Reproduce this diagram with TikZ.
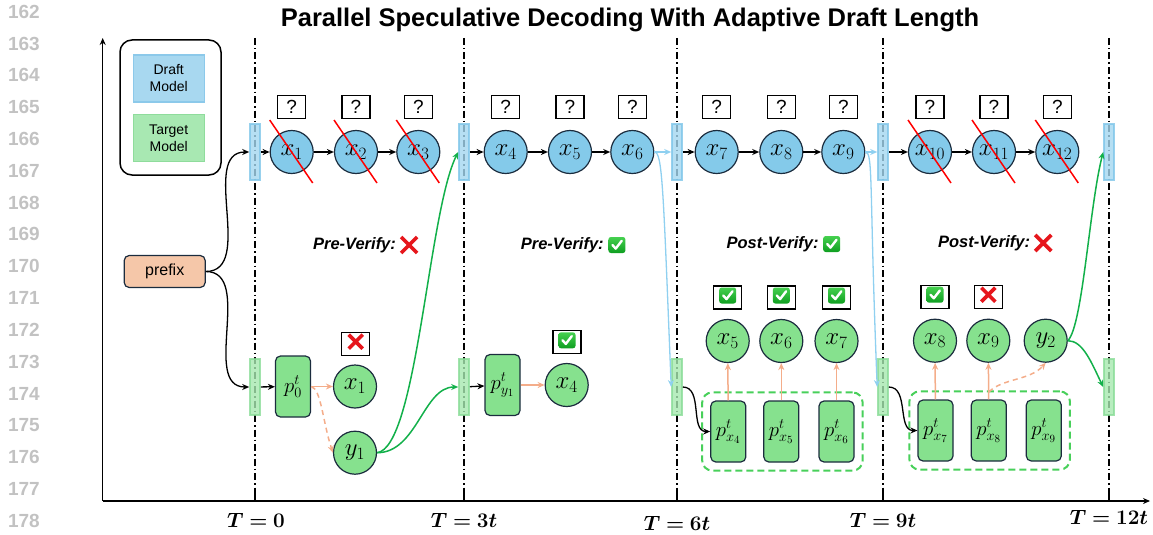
\documentclass[tikz,border=0pt]{standalone}
\usepackage{fontspec}
\usepackage{bm}
\setsansfont{Liberation Sans}
\usepackage{tikz}
\usetikzlibrary{calc}
\usetikzlibrary{fit}
\usetikzlibrary{arrows.meta}
\definecolor{c_navy}{HTML}{1B2C3E}
\definecolor{c_draft}{HTML}{84CAEA}
\definecolor{c_target}{HTML}{86E18E}
\definecolor{c_bar_blue}{HTML}{A4D7F0}
\definecolor{c_bar_blue_dark}{HTML}{7EC5E9}
\definecolor{c_bar_green}{HTML}{A6E8AF}
\definecolor{c_bar_green_dark}{HTML}{8ADC97}
\definecolor{c_ok_top}{HTML}{45D04F}
\definecolor{c_ok_bot}{HTML}{0E9E20}
\definecolor{c_no}{HTML}{E6161C}
\definecolor{c_lineno}{HTML}{C2C2C2}
\definecolor{c_link}{HTML}{12B04A}
\definecolor{c_group}{HTML}{48D05A}
\definecolor{lorange}{HTML}{F4AD8A}
\definecolor{lpeach}{HTML}{F5C7A9}
\definecolor{lsky}{HTML}{8FD0F0}
\definecolor{lblue}{HTML}{A8D8F0}
\definecolor{lblue_b}{HTML}{8CC9EA}
\definecolor{lgreen}{HTML}{A8E8B2}
\definecolor{lgreen_b}{HTML}{8FDC9C}
\newcommand\fsz[1]{\fontsize{#1}{#1}\selectfont}

\tikzset{
  draftnode/.style={circle, draw=c_navy, fill=c_draft, line width=1.2pt, minimum size=43pt, inner sep=0pt, font=\fsz{24}},
  targetnode/.style={draftnode, fill=c_target},
  probbox/.style={rectangle, rounded corners=5pt, draw=c_navy, fill=c_target, line width=1.2pt, minimum width=35pt, minimum height=61pt, inner sep=0pt, font=\fsz{21}},
  qbox/.style={rectangle, draw=black, line width=1.3pt, fill=white, minimum width=28pt, minimum height=23pt, inner sep=0pt, font=\sffamily\fsz{19}},
  bluebar/.style={rectangle, draw=c_bar_blue_dark, fill=c_bar_blue, line width=1.6pt, opacity=0.8, minimum width=10pt, minimum height=56pt, inner sep=0pt},
  greenbar/.style={bluebar, draw=c_bar_green_dark, fill=c_bar_green},
  groupbox/.style={draw=c_group, line width=2pt, dash pattern=on 7pt off 4pt, rounded corners=10pt, inner sep=8pt},
  divider/.style={line width=1.3pt, dash pattern=on 7pt off 3pt on 1.5pt off 3pt},
  strike/.style={draw=red, line width=1.5pt},
  flow/.style={->, line width=1.3pt},
  orangeflow/.style={->, draw=lorange, line width=1.5pt},
  orangedash/.style={orangeflow, dash pattern=on 5pt off 4pt},
  skyflow/.style={->, draw=lsky, line width=1.3pt},
  linkflow/.style={->, draw=c_link, line width=1.5pt},
  axis/.style={->, line width=1.5pt},
  verify/.style={font=\sffamily\bfseries\itshape\fsz{16.5}, inner sep=0pt},
  lineno/.style={anchor=east, inner sep=0pt, text=c_lineno, font=\sffamily\bfseries\fsz{19}},
  timelabel/.style={font=\fsz{21}, inner sep=0pt},
  okmark/.pic={
    \shade[top color=c_ok_top, bottom color=c_ok_bot, rounded corners=2.5pt] (-8.5,-8) rectangle (8.5,8);
    \draw[white, line width=2.4pt, line cap=round, line join=round] (-4.5,0) -- (-1.2,3.6) -- (4.8,-4.2);
  },
  nomark/.pic={
    \draw[c_no, line width=3.6pt] (-7,-7) -- (7,7) (-7,7) -- (7,-7);
  }
}

\begin{document}
\begin{tikzpicture}
[x=1pt, y=-1pt, >={Stealth[length=7pt,width=6pt]}, font=\sffamily]
	\useasboundingbox (0,0) rectangle (1153,535);

	% line numbers of the page
	\foreach \n in {0,...,16} {
		\pgfmathtruncatemacro{\lnum}{162+\n}
		\node[lineno] (ln\n) at (40, 11.7+31.82*\n) {\lnum};
	}

	\node[font=\sffamily\bfseries\fsz{25.5}] (title) at (630,20) {Parallel Speculative Decoding With Adaptive Draft Length};

	% time axis
	\draw[axis] (102.7,501) -- (102.7,38);
	\draw[axis] (102.7,501) -- (1150,501);

	\foreach \x/\t in {255/0, 464/3, 677/6, 883/9, 1109/12} {
		\draw[divider] (\x,38) -- (\x,501);
		\draw[line width=1.2pt] (\x,494) -- (\x,501);
		\node[bluebar] (bd\t) at (\x,152) {};
		\node[greenbar] (bg\t) at (\x,387) {};
	}
	\node[timelabel] (t0) at (256,520) {$\bm{T=0}$};
	\node[timelabel] (t3) at (464,520) {$\bm{T=3t}$};
	\node[timelabel] (t6) at (677,523) {$\bm{T=6t}$};
	\node[timelabel] (t9) at (883,520) {$\bm{T=9t}$};
	\node[timelabel] (t12) at (1109,517) {$\bm{T=12t}$};

	% legend
	\node[draw, line width=1.5pt, rounded corners=12pt, minimum width=101pt, minimum height=135pt] (legend) at (170.5,107.5) {};
	\node[draw=lblue_b, fill=lblue, line width=1.2pt, minimum width=71pt, minimum height=47pt, align=center, font=\sffamily\fontsize{14}{17}\selectfont] (dkey) at (168.7,78.5) {Draft\\Model};
	\node[draw=lgreen_b, fill=lgreen, line width=1.2pt, minimum width=71pt, minimum height=47pt, align=center, font=\sffamily\fontsize{14}{17}\selectfont] (tkey) at (168.7,138) {Target\\Model};

	\node[draw=c_navy, fill=lpeach, line width=1.2pt, rounded corners=5pt, minimum width=81pt, minimum height=32pt, font=\sffamily\fsz{16}] (prefix) at (164.7,271.5) {prefix};

	% draft tokens
	\foreach \x/\i in {291.7/1, 356/2, 418.3/3, 505.7/4, 570/5, 632.3/6, 716.7/7, 781.3/8, 843.3/9, 930/10, 994/11, 1057.3/12} {
		\node[draftnode] (d\i) at (\x,152) {$x_{\i}$};
		\node[qbox] (q\i) at (\x,107) {?};
	}
	\foreach \i in {1,2,3,10,11,12}
		\draw[strike] ($(d\i)+(-22,-32)$) -- ($(d\i)+(21,31)$);
	\foreach \a/\b in {bd0/d1, d1/d2, d2/d3, bd3/d4, d4/d5, d5/d6, bd6/d7, d7/d8, d8/d9, bd9/d10, d10/d11, d11/d12}
		\draw[flow] (\a) -- (\b);
	\draw[skyflow] (d6) -- (bd6);
	\draw[skyflow] (d9) -- (bd9);

	% target model side
	\node[probbox] (p0) at (293,386.5) {$p^t_0$};
	\node[targetnode] (gx1) at (355,386.5) {$x_1$};
	\node[targetnode] (gy1) at (355,452.7) {$y_1$};
	\node[probbox] (py1) at (502.5,385) {$p^t_{y_1}$};
	\node[targetnode] (gx4) at (566.7,385) {$x_4$};

	\node[probbox] (px4) at (728.3,431.5) {$p^t_{x_4}$};
	\node[probbox] (px5) at (781.3,431.5) {$p^t_{x_5}$};
	\node[probbox] (px6) at (836.5,431.5) {$p^t_{x_6}$};
	\node[targetnode] (gx5) at (727.7,341) {$x_5$};
	\node[targetnode] (gx6) at (781.3,341) {$x_6$};
	\node[targetnode] (gx7) at (836.5,341) {$x_7$};
	\node[groupbox, fit=(px4)(px6)] (grp1) {};

	\node[probbox] (px7) at (935.5,430.5) {$p^t_{x_7}$};
	\node[probbox] (px8) at (988.8,430.5) {$p^t_{x_8}$};
	\node[probbox] (px9) at (1043.8,430.5) {$p^t_{x_9}$};
	\node[targetnode] (gx8) at (935,340.7) {$x_8$};
	\node[targetnode] (gx9) at (988.3,340.7) {$x_9$};
	\node[targetnode] (gy2) at (1045.7,340.7) {$y_2$};
	\node[groupbox, fit=(px7)(px9)] (grp2) {};

	% verdict boxes
	\node[qbox] (s1) at (355.7,343.7) {};
	\node[qbox] (s2) at (567,342.3) {};
	\node[qbox] (s3) at (727.7,297.5) {};
	\node[qbox] (s4) at (781.3,297.5) {};
	\node[qbox] (s5) at (836.5,297.5) {};
	\node[qbox] (s6) at (935,296.7) {};
	\node[qbox] (s7) at (988.3,296.7) {};
	\pic at ([yshift=2pt]s1.center) {nomark};
	\foreach \s in {s2,s3,s4,s5,s6}
		\pic at ([yshift=2pt]\s.center) {okmark};
	\pic at ([yshift=2pt]s7.center) {nomark};

	\node[verify] (pv1) at (354.5,245) {Pre-Verify:};
	\node[verify] (pv2) at (562.3,245) {Pre-Verify:};
	\node[verify] (pv3) at (772.5,244) {Post-Verify:};
	\node[verify] (pv4) at (984,243) {Post-Verify:};
	\pic[scale=1.15] at ([xshift=13pt]pv1.east) {nomark};
	\pic at ([xshift=13pt]pv2.east) {okmark};
	\pic at ([xshift=13pt]pv3.east) {okmark};
	\pic[scale=1.15] at ([xshift=13pt]pv4.east) {nomark};

	% connections
	\draw[flow] (prefix.east) to[out=0,in=180] (bd0.west);
	\draw[flow] (prefix.east) to[out=0,in=180] (bg0.west);
	\draw[flow] (bg0) -- (p0);
	\draw[orangeflow] (p0) -- (gx1);
	\draw[orangedash] (p0.east) .. controls +(10,2) and +(-10,-30) .. (gy1.west);
	\draw[linkflow] (gy1.east) .. controls +(40,-5) and +(-30,60) .. (bd3.west);
	\draw[linkflow] (gy1.east) .. controls +(40,0) and +(-35,0) .. (bg3.west);
	\draw[flow] (bg3) -- (py1);
	\draw[orangeflow] (py1) -- (gx4);

	\draw[skyflow] (d6.east) .. controls +(8,0) and +(-8,-200) .. (bg6.west);
	\draw[flow] (bg6.east) to[out=0,in=180] (px4.west);
	\draw[skyflow] (d9.east) .. controls +(8,0) and +(-8,-200) .. (bg9.west);
	\draw[flow] (bg9.east) to[out=0,in=180] (px7.west);
	\foreach \a/\b in {px4/gx5, px5/gx6, px6/gx7, px7/gx8, px8/gx9}
		\draw[orangeflow] (\a) -- (\b);

	\coordinate (fork) at (988.8,392);
	\draw[orangedash] (fork) .. controls +(14,-14) and +(-16,18) .. (gy2.south);
	\draw[linkflow] (gy2.east) .. controls +(15,-15) and +(-14,55) .. (bd12.west);
	\draw[linkflow] (gy2.east) .. controls +(15,0) and +(-12,-25) .. (bg12.west);

\end{tikzpicture}
\end{document}
